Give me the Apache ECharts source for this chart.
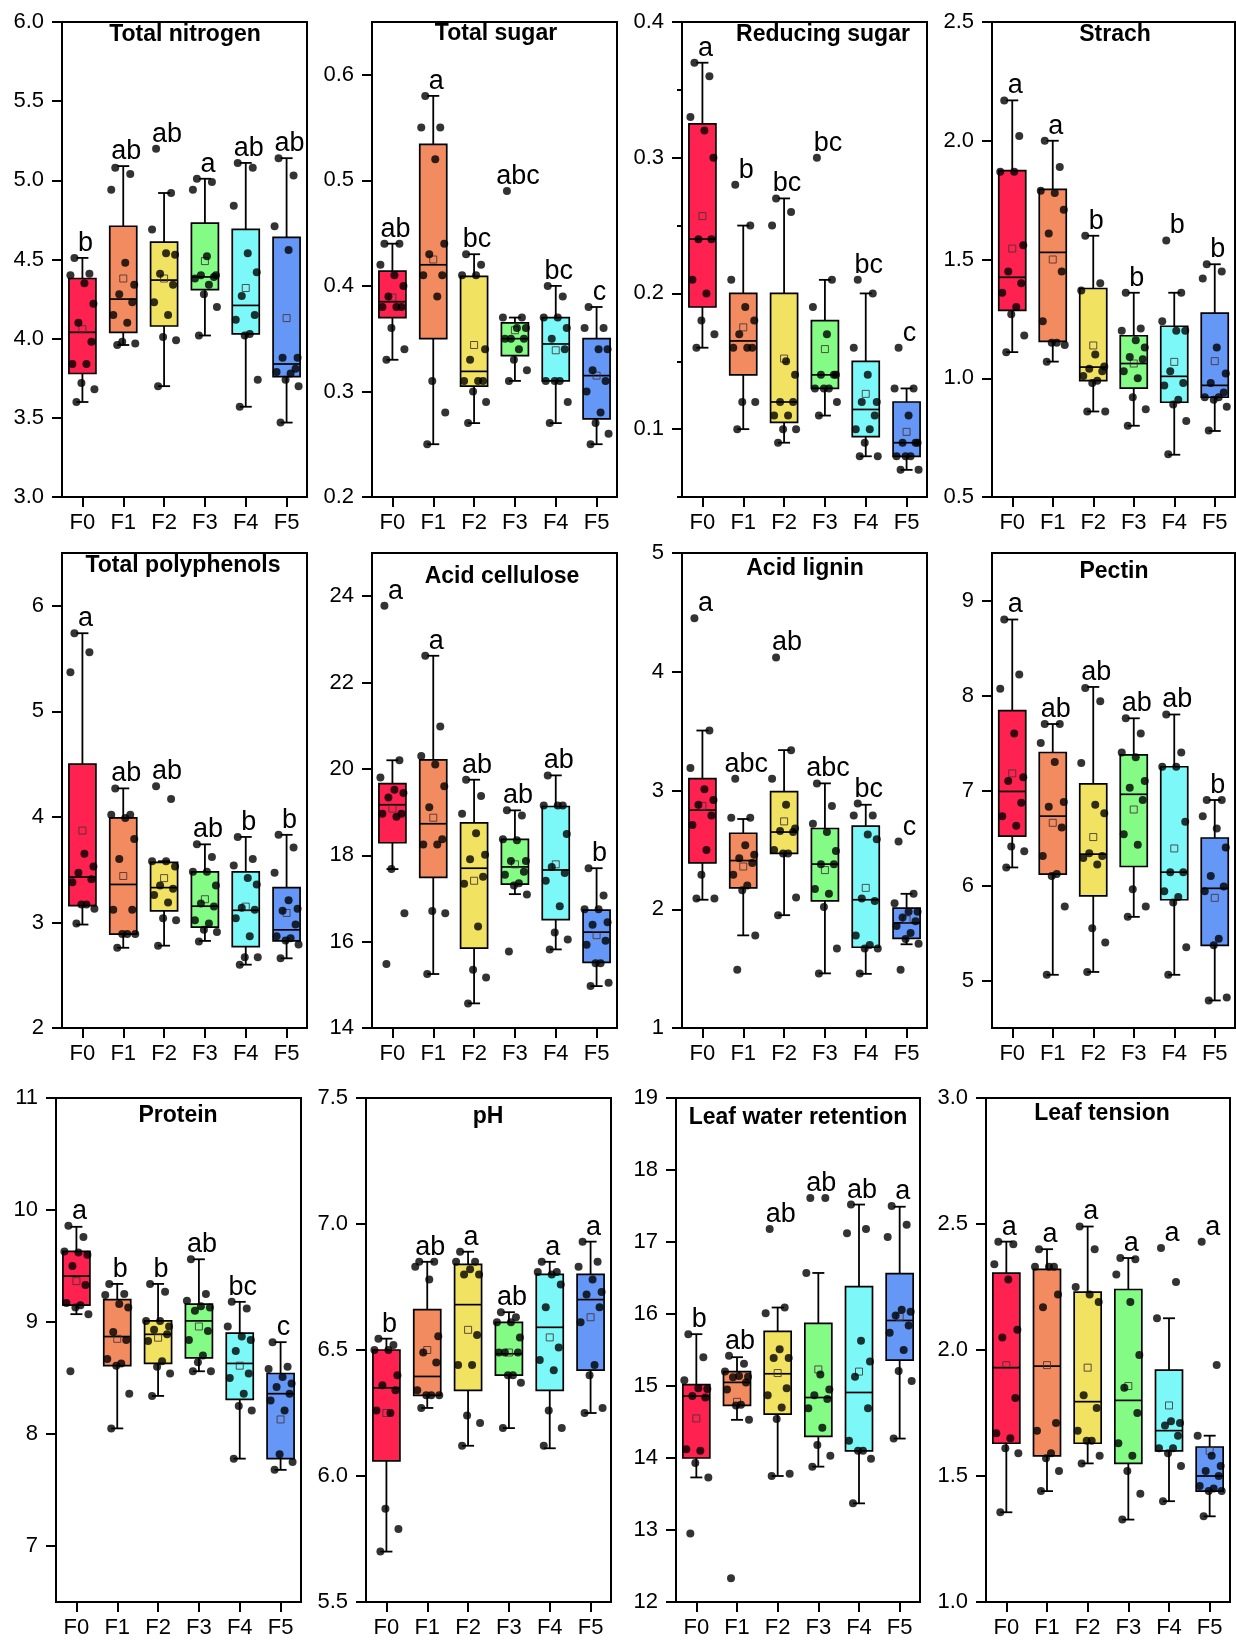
<!DOCTYPE html>
<html><head><meta charset="utf-8">
<script src="https://cdn.jsdelivr.net/npm/echarts@6/dist/echarts.min.js"></script>
<style>html,body{margin:0;padding:0;background:#fff}#chart{width:1236px;height:1641px}</style>
</head><body><div id="chart"></div>
<script>
// ---------- DATA ----------
const groups = ['F0', 'F1', 'F2', 'F3', 'F4', 'F5'];
const panelTitles = ['Total nitrogen', 'Total sugar', 'Reducing sugar', 'Strach',
  'Total polyphenols', 'Acid cellulose', 'Acid lignin', 'Pectin',
  'Protein', 'pH', 'Leaf water retention', 'Leaf tension'];

// box stats per group: [lower whisker, Q1, median, Q3, upper whisker]
const nitrogenBox = [[3.60,3.78,4.04,4.38,4.51],[3.96,4.04,4.25,4.71,5.09],[3.70,4.08,4.37,4.61,4.92],[4.02,4.31,4.39,4.73,5.01],[3.57,4.03,4.21,4.69,5.11],[3.47,3.76,3.84,4.64,5.14]];
const nitrogenMean = [4.06,4.38,4.38,4.49,4.32,4.13];
const nitrogenLetters = ['b','ab','ab','a','ab','ab'];
const nitrogenTicks = [3.0,3.5,4.0,4.5,5.0,5.5,6.0];
const nitrogenPoints = [
  [4.51,4.41,4.40,4.35,4.22,4.10,3.98,3.84,3.84,3.72,3.68,3.60],
  [5.08,5.04,4.94,4.48,4.34,4.28,4.23,4.15,4.10,3.98,3.97,3.96],
  [5.20,4.92,4.69,4.54,4.53,4.41,4.34,4.23,4.15,4.01,3.99,3.70],
  [5.01,4.99,4.94,4.52,4.40,4.40,4.39,4.38,4.34,4.28,4.20,4.02],
  [5.11,5.08,4.84,4.54,4.42,4.27,4.15,4.12,4.03,4.02,3.74,3.57],
  [5.14,5.03,4.71,4.56,3.88,3.88,3.81,3.79,3.78,3.74,3.70,3.47]];

const sugarBox = [[0.33,0.37,0.385,0.414,0.44],[0.25,0.35,0.42,0.534,0.58],[0.27,0.305,0.319,0.409,0.43],[0.31,0.334,0.35,0.365,0.37],[0.27,0.31,0.345,0.37,0.40],[0.25,0.274,0.315,0.35,0.38]];
const sugarMean = [0.389,0.425,0.344,0.358,0.339,0.315];
const sugarLetters = ['ab','a','bc','abc','bc','c'];
const sugarTicks = [0.2,0.3,0.4,0.5,0.6];
const sugarPoints = [
  [0.44,0.44,0.42,0.41,0.40,0.39,0.38,0.38,0.38,0.36,0.34,0.33],
  [0.58,0.55,0.55,0.52,0.44,0.43,0.41,0.41,0.39,0.31,0.28,0.25],
  [0.43,0.42,0.41,0.41,0.34,0.33,0.31,0.31,0.31,0.30,0.29,0.27],
  [0.49,0.37,0.37,0.36,0.36,0.35,0.35,0.35,0.34,0.33,0.32,0.31],
  [0.40,0.39,0.37,0.37,0.36,0.35,0.34,0.31,0.31,0.31,0.29,0.27],
  [0.38,0.36,0.36,0.34,0.34,0.32,0.31,0.30,0.28,0.27,0.26,0.25]];

const reducingBox = [[0.16,0.19,0.24,0.325,0.37],[0.10,0.14,0.165,0.20,0.25],[0.09,0.105,0.12,0.20,0.27],[0.11,0.13,0.14,0.18,0.21],[0.08,0.0945,0.1145,0.15,0.20],[0.07,0.08,0.09,0.12,0.13]];
const reducingMean = [0.257,0.175,0.152,0.159,0.126,0.098];
const reducingLetters = ['a','b','bc','bc','bc','c'];
const reducingTicks = [0.1,0.2,0.3,0.4];
const reducingMinorTicks = [0.05,0.15,0.25,0.35];
const reducingPoints = [
  [0.37,0.36,0.33,0.32,0.30,0.24,0.24,0.21,0.20,0.18,0.17,0.16],
  [0.28,0.25,0.21,0.19,0.18,0.17,0.16,0.16,0.16,0.12,0.12,0.10],
  [0.27,0.26,0.25,0.15,0.14,0.12,0.12,0.11,0.11,0.10,0.10,0.09],
  [0.30,0.21,0.19,0.17,0.14,0.14,0.14,0.13,0.13,0.13,0.12,0.11],
  [0.21,0.20,0.16,0.14,0.12,0.12,0.11,0.10,0.10,0.09,0.08,0.08],
  [0.16,0.13,0.13,0.11,0.09,0.09,0.09,0.08,0.08,0.08,0.07,0.07]];

const starchBox = [[1.11,1.286,1.425,1.874,2.17],[1.07,1.155,1.53,1.795,2.00],[0.86,0.99,1.047,1.378,1.60],[0.80,0.958,1.062,1.179,1.36],[0.678,0.899,1.008,1.219,1.36],[0.778,0.92,0.97,1.274,1.48]];
const starchMean = [1.546,1.50,1.138,1.062,1.069,1.072];
const starchLetters = ['a','a','b','b','b','b'];
const starchTicks = [0.5,1.0,1.5,2.0,2.5];
const starchPoints = [
  [2.17,2.02,1.87,1.87,1.56,1.45,1.40,1.36,1.30,1.27,1.18,1.11],
  [2.00,1.89,1.79,1.78,1.71,1.61,1.45,1.24,1.15,1.15,1.14,1.07],
  [1.60,1.40,1.37,1.10,1.05,1.04,1.03,1.01,0.99,0.98,0.86,0.86],
  [1.36,1.21,1.20,1.16,1.13,1.09,1.08,1.03,1.00,0.92,0.87,0.80],
  [1.58,1.36,1.24,1.20,1.20,1.03,0.98,0.97,0.91,0.89,0.82,0.68],
  [1.48,1.45,1.42,1.13,1.02,0.98,0.94,0.92,0.92,0.91,0.88,0.78]];

const polyBox = [[2.98,3.16,3.43,4.50,5.74],[2.76,2.89,3.36,3.99,4.27],[2.78,3.11,3.33,3.57,3.58],[2.825,2.955,3.154,3.48,3.74],[2.60,2.77,3.115,3.48,3.81],[2.66,2.825,2.93,3.33,3.83]];
const polyMean = [3.87,3.44,3.42,3.22,3.15,3.09];
const polyLetters = ['a','ab','ab','ab','b','b'];
const polyTicks = [2,3,4,5,6];
const polyPoints = [
  [5.74,5.56,5.37,3.65,3.53,3.47,3.41,3.38,3.17,3.17,3.13,2.99],
  [4.27,4.02,4.02,3.99,3.79,3.60,3.12,3.12,2.89,2.89,2.89,2.76],
  [4.29,4.17,3.58,3.58,3.53,3.35,3.32,3.26,3.19,3.04,3.02,2.78],
  [3.74,3.62,3.48,3.48,3.35,3.18,3.15,3.02,2.99,2.93,2.91,2.82],
  [3.81,3.60,3.54,3.42,3.36,3.14,3.12,3.04,2.87,2.67,2.67,2.60],
  [3.83,3.71,3.47,3.21,3.13,3.11,2.98,2.87,2.85,2.83,2.79,2.66]];

const celluloseBox = [[17.68,18.29,19.17,19.66,20.2],[15.25,17.49,18.73,20.21,22.62],[14.57,15.85,17.70,18.75,19.75],[17.1,17.33,17.73,18.37,19.04],[15.82,16.51,17.66,19.13,19.85],[14.97,15.52,16.22,16.73,17.70]];
const celluloseMean = [19.08,18.87,17.41,17.79,17.79,16.15];
const celluloseLetters = ['a','a','ab','ab','ab','b'];
const celluloseTicks = [14,16,18,20,22,24];
const cellulosePoints = [
  [23.78,20.2,19.80,19.52,19.44,19.34,18.96,18.96,18.89,17.68,16.66,15.48],
  [22.62,20.98,20.30,20.10,19.60,19.11,18.37,18.25,18.25,16.71,16.66,15.25],
  [19.75,19.37,18.96,18.51,18.01,17.91,17.50,17.34,16.35,15.35,15.17,14.57],
  [19.04,18.92,18.37,18.35,17.87,17.87,17.62,17.55,17.35,17.30,17.09,15.77],
  [19.85,19.15,19.15,19.15,18.49,17.73,17.59,17.41,16.82,16.21,16.05,15.82],
  [17.70,17.07,16.75,16.75,16.45,16.39,16.02,15.93,15.50,15.50,15.05,14.97]];

const ligninBox = [[2.08,2.39,2.835,3.10,3.505],[1.78,2.18,2.41,2.64,2.76],[1.95,2.47,2.65,2.99,3.34],[1.46,2.07,2.38,2.68,3.06],[1.456,1.68,2.08,2.70,2.88],[1.705,1.755,1.885,2.01,2.13]];
const ligninMean = [2.87,2.36,2.74,2.33,2.18,1.915];
const ligninLetters = ['a','abc','ab','abc','bc','c'];
const ligninTicks = [1,2,3,4,5];
const ligninPoints = [
  [4.45,3.505,3.19,3.01,2.92,2.88,2.79,2.71,2.50,2.29,2.09,2.09],
  [3.10,2.77,2.77,2.54,2.46,2.43,2.39,2.29,2.20,2.16,1.78,1.49],
  [4.12,3.34,3.10,2.88,2.68,2.66,2.65,2.50,2.47,2.47,2.10,1.95],
  [3.06,2.87,2.72,2.65,2.49,2.38,2.38,2.17,2.13,2.02,1.67,1.46],
  [2.89,2.79,2.79,2.63,2.59,2.09,2.07,1.78,1.70,1.67,1.67,1.46],
  [2.57,2.13,2.05,1.98,1.98,1.93,1.90,1.86,1.80,1.75,1.71,1.49]];

const pectinBox = [[6.19,6.52,6.99,7.84,8.80],[5.06,6.12,6.73,7.40,7.70],[5.09,5.89,6.33,7.07,8.09],[5.67,6.20,6.96,7.375,7.76],[5.06,5.85,6.14,7.25,7.80],[4.79,5.37,5.97,6.50,6.90]];
const pectinMean = [7.18,6.66,6.51,6.80,6.39,5.87];
const pectinLetters = ['a','ab','ab','ab','ab','b'];
const pectinTicks = [5,6,7,8,9];
const pectinPoints = [
  [8.80,8.22,8.07,7.60,7.14,7.10,6.87,6.73,6.63,6.41,6.36,6.19],
  [7.70,7.70,7.50,7.30,6.88,6.83,6.61,6.31,6.12,6.10,5.78,5.06],
  [8.08,7.94,7.29,6.85,6.76,6.34,6.31,6.29,6.22,5.55,5.40,5.09],
  [7.76,7.60,7.40,7.35,7.10,7.03,6.90,6.54,6.43,5.96,5.78,5.67],
  [7.80,7.40,7.25,7.25,6.67,6.14,6.14,5.94,5.88,5.82,5.35,5.06],
  [6.90,6.90,6.73,6.60,6.40,6.10,5.99,5.94,5.44,5.37,4.82,4.79]];

const proteinBox = [[9.07,9.15,9.41,9.63,9.85],[8.05,8.61,8.87,9.20,9.34],[8.34,8.63,8.89,9.01,9.34],[8.56,8.68,9.01,9.16,9.56],[7.78,8.31,8.63,8.90,9.18],[7.68,7.78,8.36,8.54,8.82]];
const proteinMean = [9.365,8.85,8.86,8.96,8.61,8.13];
const proteinLetters = ['a','b','b','ab','bc','c'];
const proteinTicks = [7,8,9,10,11];
const proteinPoints = [
  [9.86,9.76,9.63,9.62,9.60,9.50,9.33,9.17,9.15,9.13,9.07,8.56],
  [9.34,9.25,9.24,9.16,9.13,8.91,8.84,8.67,8.63,8.61,8.36,8.05],
  [9.34,9.27,9.01,9.01,8.96,8.93,8.89,8.83,8.65,8.60,8.54,8.34],
  [9.56,9.25,9.19,9.14,9.13,9.10,8.92,8.84,8.70,8.64,8.56,8.56],
  [9.18,9.12,8.96,8.87,8.84,8.74,8.54,8.50,8.36,8.25,8.21,7.78],
  [8.82,8.60,8.58,8.51,8.45,8.42,8.36,8.30,8.21,7.82,7.75,7.68]];

const phBox = [[5.70,6.06,6.35,6.50,6.545],[6.27,6.32,6.395,6.66,6.85],[6.12,6.34,6.68,6.84,6.89],[6.19,6.40,6.485,6.61,6.65],[6.11,6.34,6.59,6.80,6.85],[6.25,6.42,6.70,6.80,6.93]];
const phMean = [6.25,6.50,6.58,6.49,6.55,6.63];
const phLetters = ['b','ab','a','ab','a','a'];
const phTicks = [5.5,6.0,6.5,7.0,7.5];
const phPoints = [
  [6.545,6.52,6.50,6.50,6.40,6.36,6.34,6.26,6.25,5.87,5.79,5.70],
  [6.85,6.85,6.83,6.78,6.555,6.49,6.45,6.34,6.32,6.32,6.32,6.27],
  [6.89,6.85,6.85,6.82,6.80,6.80,6.56,6.44,6.44,6.24,6.21,6.12],
  [6.65,6.63,6.61,6.61,6.55,6.49,6.49,6.49,6.40,6.40,6.37,6.19],
  [6.85,6.81,6.81,6.80,6.76,6.67,6.51,6.46,6.42,6.26,6.19,6.12],
  [6.93,6.85,6.83,6.78,6.73,6.72,6.67,6.61,6.44,6.40,6.27,6.25]];

const lwrBox = [[13.73,14.00,14.86,15.02,15.72],[14.53,14.73,15.05,15.20,15.40],[13.75,14.61,15.17,15.76,16.09],[13.88,14.30,14.84,15.87,16.57],[13.37,14.10,14.91,16.38,17.52],[14.27,15.36,15.91,16.56,17.49]];
const lwrMean = [14.55,14.78,15.18,15.23,15.20,15.96];
const lwrLetters = ['b','ab','ab','ab','ab','a'];
const lwrTicks = [12,13,14,15,16,17,18,19];
const lwrPoints = [
  [15.72,15.40,15.08,14.97,14.96,14.86,14.84,14.12,14.10,13.93,13.73,12.95],
  [15.42,15.31,15.20,15.14,15.13,15.12,15.05,14.95,14.74,14.73,14.53,12.33],
  [17.18,16.09,16.01,15.51,15.39,15.39,14.97,14.87,14.70,14.54,13.78,13.75],
  [17.61,17.61,16.57,15.16,14.95,14.87,14.82,14.69,14.42,14.18,14.03,13.88],
  [17.52,17.18,17.12,15.63,15.34,15.13,14.69,14.24,14.10,14.10,13.99,13.37],
  [17.50,17.24,17.07,16.06,16.03,15.98,15.84,15.74,15.50,15.21,15.07,14.27]];

const tensionBox = [[1.356,1.63,1.93,2.305,2.43],[1.44,1.58,1.936,2.32,2.40],[1.55,1.63,1.795,2.23,2.49],[1.327,1.55,1.80,2.24,2.365],[1.40,1.60,1.68,1.92,2.126],[1.34,1.44,1.50,1.615,1.66]];
const tensionMean = [1.94,1.94,1.93,1.857,1.78,1.60];
const tensionLetters = ['a','a','a','a','a','a'];
const tensionTicks = [1.0,1.5,2.0,2.5,3.0];
const tensionPoints = [
  [2.43,2.42,2.34,2.28,2.08,2.05,1.81,1.67,1.65,1.61,1.59,1.356],
  [2.40,2.33,2.33,2.33,2.22,2.17,1.71,1.68,1.59,1.57,1.52,1.44],
  [2.49,2.40,2.25,2.22,2.19,1.82,1.77,1.68,1.64,1.64,1.58,1.55],
  [2.365,2.36,2.30,2.19,1.98,1.85,1.75,1.63,1.58,1.52,1.43,1.327],
  [2.405,2.27,2.126,1.717,1.71,1.70,1.66,1.61,1.61,1.59,1.54,1.40],
  [2.43,1.94,1.66,1.58,1.54,1.52,1.50,1.46,1.45,1.44,1.44,1.34]];

// ---------- STYLE / LAYOUT ----------
const COLORS = ['#FF2150', '#F38B61', '#F1E262', '#83FB85', '#7CF8F9', '#6597F6'];
const FONT = '"Liberation Sans", Arial, Helvetica, sans-serif';
const JITTER = [-8, 7, -12, 2, 11, -4, 9, -10, 4, -1, 12, -6];
const BOX_HALF = 13.5;

const panels = [
  {box: nitrogenBox, mean: nitrogenMean, letters: nitrogenLetters, ticks: nitrogenTicks, points: nitrogenPoints},
  {box: sugarBox, mean: sugarMean, letters: sugarLetters, ticks: sugarTicks, points: sugarPoints},
  {box: reducingBox, mean: reducingMean, letters: reducingLetters, ticks: reducingTicks, points: reducingPoints, minor: reducingMinorTicks},
  {box: starchBox, mean: starchMean, letters: starchLetters, ticks: starchTicks, points: starchPoints},
  {box: polyBox, mean: polyMean, letters: polyLetters, ticks: polyTicks, points: polyPoints},
  {box: celluloseBox, mean: celluloseMean, letters: celluloseLetters, ticks: celluloseTicks, points: cellulosePoints},
  {box: ligninBox, mean: ligninMean, letters: ligninLetters, ticks: ligninTicks, points: ligninPoints},
  {box: pectinBox, mean: pectinMean, letters: pectinLetters, ticks: pectinTicks, points: pectinPoints},
  {box: proteinBox, mean: proteinMean, letters: proteinLetters, ticks: proteinTicks, points: proteinPoints},
  {box: phBox, mean: phMean, letters: phLetters, ticks: phTicks, points: phPoints},
  {box: lwrBox, mean: lwrMean, letters: lwrLetters, ticks: lwrTicks, points: lwrPoints},
  {box: tensionBox, mean: tensionMean, letters: tensionLetters, ticks: tensionTicks, points: tensionPoints}
];

const LAYOUT = [
  {left: 62, top: 22, width: 245, height: 475, min: 3, max: 6, dec: 1, tx: 185, ty: 35},
  {left: 372, top: 22, width: 245, height: 475, min: 0.2, max: 0.65, dec: 1, tx: 496, ty: 34},
  {left: 682, top: 22, width: 245, height: 475, min: 0.05, max: 0.4, dec: 1, tx: 823, ty: 35},
  {left: 992, top: 22, width: 243, height: 475, min: 0.5, max: 2.5, dec: 1, tx: 1115, ty: 35},
  {left: 62, top: 553, width: 245, height: 475, min: 2, max: 6.5, dec: 0, tx: 183, ty: 566},
  {left: 372, top: 553, width: 245, height: 475, min: 14, max: 25, dec: 0, tx: 502, ty: 577},
  {left: 682, top: 553, width: 245, height: 475, min: 1, max: 5, dec: 0, tx: 805, ty: 569},
  {left: 992, top: 553, width: 243, height: 475, min: 4.5, max: 9.5, dec: 0, tx: 1114, ty: 572},
  {left: 56, top: 1098, width: 245, height: 504, min: 6.5, max: 11, dec: 0, tx: 178, ty: 1116},
  {left: 366, top: 1098, width: 245, height: 504, min: 5.5, max: 7.5, dec: 1, tx: 488, ty: 1117},
  {left: 676, top: 1098, width: 244, height: 504, min: 12, max: 19, dec: 0, tx: 798, ty: 1118},
  {left: 986, top: 1098, width: 244, height: 504, min: 1, max: 3, dec: 1, tx: 1102, ty: 1114}
];

function makeRender(letters) {
  return function (params, api) {
    const j = params.dataIndex;
    const idx = api.value(0);
    const P = v => api.coord([idx, v]);
    const pl = P(api.value(1)), pq1 = P(api.value(2)), pm = P(api.value(3)),
      pq3 = P(api.value(4)), ph = P(api.value(5)), pmean = P(api.value(6)), ptop = P(api.value(7));
    const x = pm[0];
    const hw = BOX_HALF;
    const line = (x1, y1, x2, y2, w) => ({type: 'line', shape: {x1, y1, x2, y2}, style: {stroke: '#000', lineWidth: w}});
    return {
      type: 'group',
      children: [
        line(x, pq3[1], x, ph[1], 1.8),
        line(x, pq1[1], x, pl[1], 1.8),
        line(x - 6, ph[1], x + 6, ph[1], 1.8),
        line(x - 6, pl[1], x + 6, pl[1], 1.8),
        {type: 'rect', shape: {x: x - hw, y: pq3[1], width: 2 * hw, height: pq1[1] - pq3[1]},
          style: {fill: COLORS[j], stroke: '#000', lineWidth: 1.7}},
        line(x - hw, pm[1], x + hw, pm[1], 1.7),
        {type: 'rect', shape: {x: x - 3.5, y: pmean[1] - 3.5, width: 7, height: 7},
          style: {fill: 'none', stroke: 'rgba(70,50,50,0.85)', lineWidth: 1}},
        {type: 'text', x: x + 3, y: ptop[1] - 1,
          style: {text: letters[j], fill: '#000', font: '27px ' + FONT, align: 'center', verticalAlign: 'bottom'}}
      ]
    };
  };
}

const grid = [], xAxis = [], yAxis = [], series = [], graphic = [];
panels.forEach((p, i) => {
  const L = LAYOUT[i];
  grid.push({left: L.left, top: L.top, width: L.width, height: L.height, show: true,
    borderColor: '#000', borderWidth: 2, backgroundColor: 'transparent', containLabel: false, outerBoundsMode: 'none'});
  xAxis.push({type: 'category', gridIndex: i, data: groups, boundaryGap: true,
    axisLine: {show: true, lineStyle: {color: '#000', width: 2}},
    axisTick: {show: true, alignWithLabel: true, interval: 0, length: 10, lineStyle: {color: '#000', width: 2}},
    axisLabel: {interval: 0, fontSize: 22, color: '#000', fontFamily: FONT, margin: 15},
    splitLine: {show: false}});
  yAxis.push({type: 'value', gridIndex: i, min: L.min, max: L.max,
    axisLine: {show: true, lineStyle: {color: '#000', width: 2}},
    axisTick: {show: true, inside: false, length: 10, customValues: p.ticks, lineStyle: {color: '#000', width: 2}},
    axisLabel: {customValues: p.ticks, formatter: v => Number(v).toFixed(L.dec), fontSize: 22, color: '#000', fontFamily: FONT, margin: 18},
    splitLine: {show: false}});
  const tops = p.box.map((b, j) => Math.max(b[4], ...p.points[j]));
  series.push({type: 'custom', xAxisIndex: i, yAxisIndex: i, silent: true, z: 2,
    encode: {x: 0, y: [1, 2, 3, 4, 5]},
    data: p.box.map((b, j) => [j, b[0], b[1], b[2], b[3], b[4], p.mean[j], tops[j]]),
    renderItem: makeRender(p.letters)});
  const pts = [];
  p.points.forEach((arr, j) => arr.forEach((v, k) => pts.push({value: [j, v], symbolOffset: [JITTER[k % JITTER.length], 0]})));
  series.push({type: 'scatter', xAxisIndex: i, yAxisIndex: i, silent: true, z: 3,
    symbol: 'circle', symbolSize: 8, itemStyle: {color: '#000'}, data: pts});
  graphic.push({type: 'text', x: L.tx, y: L.ty, silent: true,
    style: {text: panelTitles[i], fill: '#000', font: 'bold 23px ' + FONT, align: 'center', verticalAlign: 'middle'}});
});
// minor ticks for the reducing sugar panel
panels.forEach((p, i) => {
  if (!p.minor) return;
  const L = LAYOUT[i];
  yAxis.push({type: 'value', gridIndex: i, min: L.min, max: L.max, position: 'left',
    axisLine: {show: false}, axisLabel: {show: false}, splitLine: {show: false},
    axisTick: {show: true, length: 5, customValues: p.minor, lineStyle: {color: '#000', width: 2}}});
});

const chart = echarts.init(document.getElementById('chart'), null, {renderer: 'canvas'});
chart.setOption({animation: false, backgroundColor: '#fff', grid, xAxis, yAxis, series, graphic});
</script></body></html>
